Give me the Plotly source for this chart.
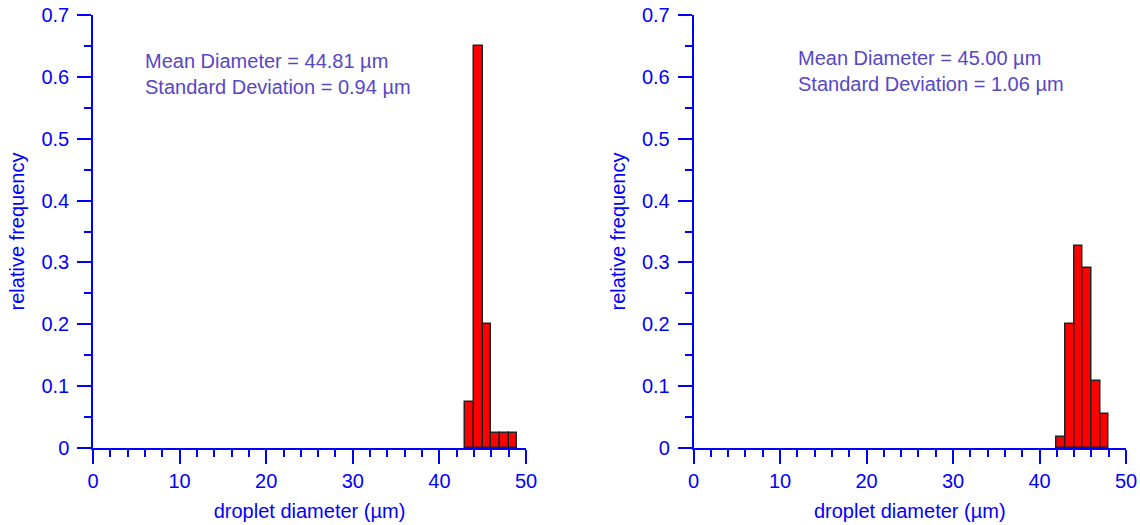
import plotly.graph_objects as go

# Data
left_bin_starts = [43, 44, 45, 46, 47, 48]
left_freq = [0.075, 0.65, 0.2, 0.025, 0.025, 0.025]
right_bin_starts = [42, 43, 44, 45, 46, 47]
right_freq = [0.018, 0.2, 0.327, 0.291, 0.109, 0.055]
left_label = "Mean Diameter = 44.81 \u00b5m<br>Standard Deviation = 0.94 \u00b5m"
right_label = "Mean Diameter = 45.00 \u00b5m<br>Standard Deviation = 1.06 \u00b5m"
x_title = "droplet diameter (\u00b5m)"
y_title = "relative frequency"

BLUE = "#0000ff"
PURPLE = "#5746c6"
FONT = "Liberation Sans, Arial, Helvetica, sans-serif"

fig = go.Figure()
fig.add_trace(go.Bar(x=left_bin_starts, y=left_freq, width=1, offset=0,
                     marker=dict(color="#ff0000", line=dict(color="#222222", width=1.5)),
                     xaxis="x", yaxis="y", showlegend=False))
fig.add_trace(go.Bar(x=right_bin_starts, y=right_freq, width=1, offset=0,
                     marker=dict(color="#ff0000", line=dict(color="#222222", width=1.5)),
                     xaxis="x2", yaxis="y2", showlegend=False))

W, H = 1140, 525
L, R, T, B = 93, 1126, 15, 448
pw = R - L
x1_dom = [0, (526 - L) / pw]
x2_dom = [(693.5 - L) / pw, 1]

def xaxis(dom, anchor):
    return dict(domain=dom, anchor=anchor, range=[0, 50], dtick=10, tick0=0,
                automargin=False, ticklabeloverflow="allow",
                showline=True, linecolor=BLUE, linewidth=1.5,
                ticks="outside", ticklen=14, tickwidth=1.5, tickcolor=BLUE,
                minor=dict(dtick=2, ticklen=7, tickwidth=1.5, tickcolor=BLUE, ticks="outside"),
                showgrid=False, zeroline=False,
                tickfont=dict(family=FONT, size=20, color=BLUE),
                title=dict(text=x_title, font=dict(family=FONT, size=20, color=BLUE), standoff=13))

def yaxis(anchor):
    return dict(domain=[0, 1], anchor=anchor, range=[0, 0.7], dtick=0.1, tick0=0,
                automargin=False, ticklabeloverflow="allow",
                showline=True, linecolor=BLUE, linewidth=1.5,
                ticks="outside", ticklen=14, tickwidth=1.5, tickcolor=BLUE,
                ticklabelstandoff=4,
                minor=dict(dtick=0.05, ticklen=7, tickwidth=1.5, tickcolor=BLUE, ticks="outside"),
                showgrid=False, zeroline=False,
                tickfont=dict(family=FONT, size=20, color=BLUE),
                title=dict(text=y_title, font=dict(family=FONT, size=20, color=BLUE), standoff=11))

fig.update_layout(
    width=W, height=H,
    margin=dict(l=L, r=W - R, t=T, b=H - B, pad=0, autoexpand=False),
    plot_bgcolor="white", paper_bgcolor="white",
    xaxis=xaxis(x1_dom, "y"), yaxis=yaxis("x"),
    xaxis2=xaxis(x2_dom, "y2"), yaxis2=yaxis("x2"),
    bargap=0,
    annotations=[
        dict(x=5.8, y=0.604, xref="x", yref="y", text=left_label, showarrow=False,
             xanchor="left", yanchor="middle", align="left",
             font=dict(family=FONT, size=20, color=PURPLE)),
        dict(x=11.8, y=0.61, xref="x2", yref="y2", text=right_label, showarrow=False,
             xanchor="left", yanchor="middle", align="left",
             font=dict(family=FONT, size=20, color=PURPLE)),
    ],
)

fig.write_html("out.html",
               config={"displayModeBar": False},
               post_script="document.body.style.margin='0';document.body.style.overflow='hidden';")
